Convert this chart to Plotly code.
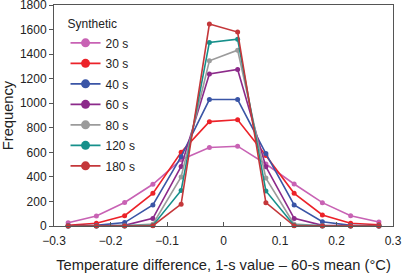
import plotly.graph_objects as go

x_vals = [-0.275, -0.225, -0.175, -0.125, -0.075, -0.025, 0.025, 0.075, 0.125, 0.175, 0.225, 0.275]
series_names = ["20 s", "30 s", "40 s", "60 s", "80 s", "120 s", "180 s"]
s20 = [27, 82, 192, 340, 540, 640, 650, 505, 342, 190, 84, 33]
s30 = [5, 22, 84, 266, 600, 850, 865, 575, 266, 90, 22, 10]
s40 = [2, 5, 28, 171, 565, 1030, 1030, 590, 171, 35, 5, 2]
s60 = [0, 2, 5, 62, 485, 1238, 1275, 483, 62, 5, 2, 0]
s80 = [0, 0, 2, 15, 400, 1345, 1432, 390, 15, 2, 0, 0]
s120 = [0, 0, 0, 5, 290, 1495, 1522, 285, 5, 0, 0, 0]
s180 = [0, 0, 0, 2, 178, 1645, 1580, 190, 2, 0, 0, 0]
colors = ["#c862b4", "#ec2229", "#3a55a6", "#8c2a8a", "#9b9b9b", "#16908b", "#c4373a"]

x_ticks = [-0.3, -0.2, -0.1, 0, 0.1, 0.2, 0.3]
x_tick_text = ["\u22120.3", "\u22120.2", "\u22120.1", "0", "0.1", "0.2", "0.3"]
y_ticks = [0, 200, 400, 600, 800, 1000, 1200, 1400, 1600, 1800]

fig = go.Figure()
for name, ys, c in zip(series_names, [s20, s30, s40, s60, s80, s120, s180], colors):
    fig.add_trace(go.Scatter(
        x=x_vals, y=ys, name=name, mode="lines+markers",
        line=dict(color=c, width=1.6),
        marker=dict(color=c, size=5),
        cliponaxis=False, showlegend=False, legendgroup=name,
    ))
# legend-only entries (no data points) with larger symbols, as in the reference
for name, c in zip(series_names, colors):
    fig.add_trace(go.Scatter(
        x=[None], y=[None], name=name, mode="lines+markers",
        line=dict(color=c, width=1.6), marker=dict(color=c, size=9),
        legendgroup=name, showlegend=True,
    ))

font = "Liberation Sans, Arial, sans-serif"
fig.update_layout(
    width=402, height=273,
    margin=dict(l=54, r=9, t=5, b=47),
    paper_bgcolor="white", plot_bgcolor="white",
    font=dict(family=font, size=12, color="#222"),
    showlegend=True,
    legend=dict(
        x=0.034, y=0.965, xanchor="left", yanchor="top",
        title=dict(text="Synthetic", font=dict(size=12)),
        itemsizing="trace", bgcolor="rgba(0,0,0,0)",
        font=dict(size=12), tracegroupgap=1.5,
    ),
    xaxis=dict(
        range=[-0.3, 0.3], tickvals=x_ticks, ticktext=x_tick_text,
        showgrid=False, zeroline=False, showline=True, linecolor="#555", linewidth=1,
        mirror=True, ticks="inside", ticklen=4, tickcolor="#555",
        tickfont=dict(size=12), automargin=False, ticklabeloverflow="allow",
        ticklabelstandoff=4,
        title=dict(text="Temperature difference, 1-s value \u2013 60-s mean (\u00b0C)", font=dict(size=14.7), standoff=12),
    ),
    yaxis=dict(
        range=[0, 1800], tickvals=y_ticks,
        showgrid=False, zeroline=False, showline=True, linecolor="#555", linewidth=1,
        mirror=True, ticks="outside", ticklen=4, tickcolor="#555",
        tickfont=dict(size=12), automargin=False, ticklabeloverflow="allow",
        title=dict(text="Frequency", font=dict(size=14.7), standoff=4),
    ),
)
fig.write_html("out.html", config={"displayModeBar": False},
               post_script="document.body.style.margin='0px';")
